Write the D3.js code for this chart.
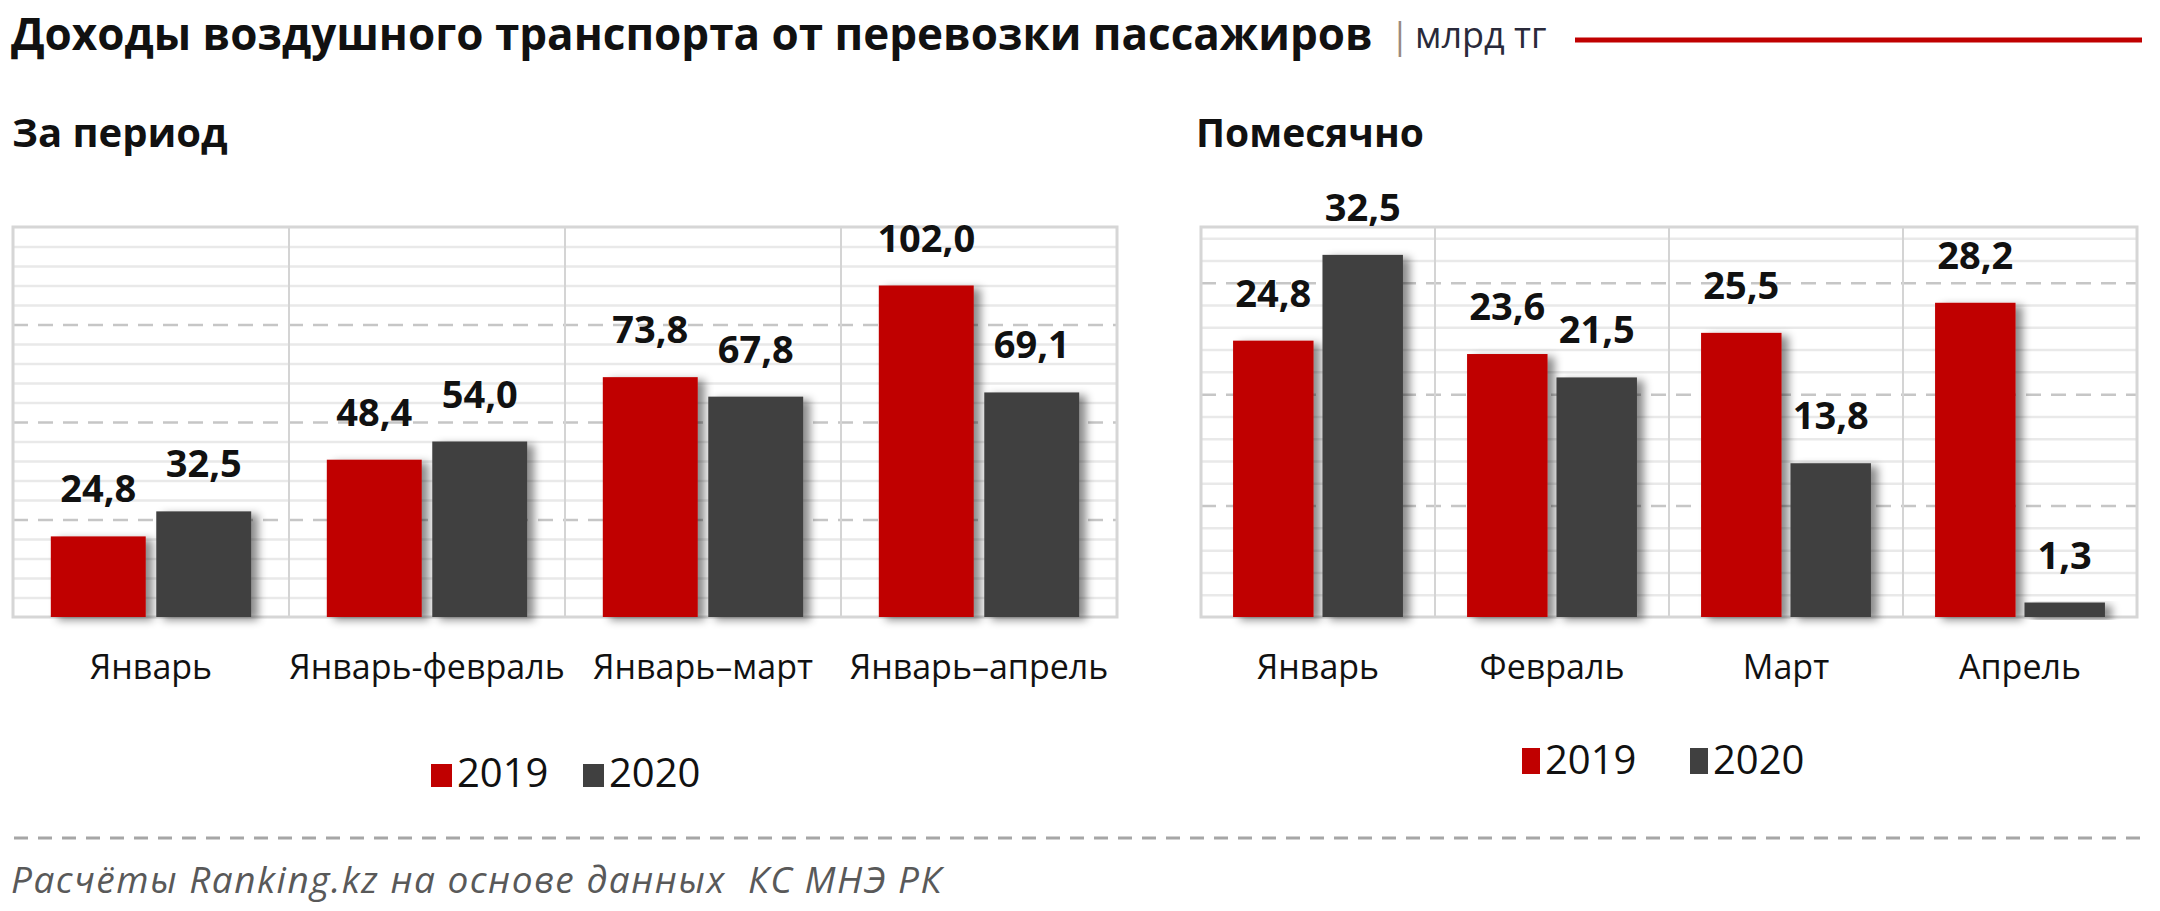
<!DOCTYPE html>
<html>
<head>
<meta charset="utf-8">
<script src="https://cdn.jsdelivr.net/npm/d3@7"></script>
<style>
  body { margin: 0; background: #fff; }
  svg { display: block; font-family: "Open Sans", sans-serif; }
</style>
</head>
<body>
<svg width="2160" height="911"></svg>
<script>
const years = ["2019", "2020"];
const yearColors = ["#c00000", "#404040"];

// За период
const periodCats = ["Январь", "Январь-февраль", "Январь–март", "Январь–апрель"];
const period2019 = [24.8, 48.4, 73.8, 102.0];
const period2020 = [32.5, 54.0, 67.8, 69.1];

// Помесячно
const monthCats = ["Январь", "Февраль", "Март", "Апрель"];
const month2019 = [24.8, 23.6, 25.5, 28.2];
const month2020 = [32.5, 21.5, 13.8, 1.3];

const svg = d3.select("svg");
const fmt = (v) => d3.format(".1f")(v).replace(".", ",");

const defs = svg.append("defs");
defs
  .append("filter")
  .attr("id", "shadow")
  .attr("x", "-20%")
  .attr("y", "-10%")
  .attr("width", "160%")
  .attr("height", "130%")
  .append("feDropShadow")
  .attr("dx", 7)
  .attr("dy", 3)
  .attr("stdDeviation", 4)
  .attr("flood-color", "#000")
  .attr("flood-opacity", 0.45);

// header
svg
  .append("text")
  .attr("x", 11)
  .attr("y", 50)
  .attr("font-size", 44)
  .attr("font-weight", 700)
  .attr("fill", "#111")
  .text("Доходы воздушного транспорта от перевозки пассажиров");

svg
  .append("text")
  .attr("x", 1390)
  .attr("y", 48)
  .attr("font-size", 36)
  .attr("fill", "#9a8a80")
  .text("|");

svg
  .append("text")
  .attr("x", 1415)
  .attr("y", 48)
  .attr("font-size", 36)
  .attr("fill", "#2a2a3a")
  .text("млрд тг");

svg
  .append("line")
  .attr("x1", 1575)
  .attr("x2", 2142)
  .attr("y1", 40)
  .attr("y2", 40)
  .attr("stroke", "#c00000")
  .attr("stroke-width", 5);

function drawPanel(opt) {
  const g = svg.append("g");
  const w = opt.x1 - opt.x0;

  g.append("text")
    .attr("x", opt.titleX)
    .attr("y", 147)
    .attr("font-size", opt.titleSize)
    .attr("font-weight", 700)
    .attr("fill", "#111")
    .text(opt.title);

  const x = d3.scaleBand().domain(opt.cats).range([opt.x0, opt.x1]);
  const y = d3.scaleLinear().domain([0, opt.max]).range([opt.y1, opt.y0]);
  const pad = x.bandwidth() * 0.137;
  const xs = d3
    .scaleBand()
    .domain(years)
    .range([pad, x.bandwidth() - pad])
    .paddingInner(0.1);

  // minor grid (skipping the dashed major positions)
  const minorTicks = d3
    .range(opt.minor, opt.max, opt.minor)
    .filter((v) => Math.abs(v / opt.major - Math.round(v / opt.major)) > 1e-6);

  g.append("g")
    .attr("transform", `translate(${opt.x0},0)`)
    .call(d3.axisLeft(y).tickValues(minorTicks).tickSize(-w).tickFormat(""))
    .call((a) => a.select(".domain").remove())
    .selectAll("line")
    .attr("stroke", "#e9e9e9")
    .attr("stroke-width", 2.5);

  // major dashed grid
  g.append("g")
    .attr("transform", `translate(${opt.x0},0)`)
    .call(
      d3
        .axisLeft(y)
        .tickValues(d3.range(opt.major, opt.max, opt.major))
        .tickSize(-w)
        .tickFormat("")
    )
    .call((a) => a.select(".domain").remove())
    .selectAll("line")
    .attr("stroke", "#c6c6c6")
    .attr("stroke-width", 2.5)
    .attr("stroke-dasharray", "15,10");

  // category dividers
  g.append("g")
    .selectAll("line")
    .data(opt.cats.slice(1))
    .join("line")
    .attr("x1", (d) => x(d))
    .attr("x2", (d) => x(d))
    .attr("y1", opt.y0)
    .attr("y2", opt.y1)
    .attr("stroke", "#d4d4d4")
    .attr("stroke-width", 2);

  g.append("rect")
    .attr("x", opt.x0)
    .attr("y", opt.y0)
    .attr("width", w)
    .attr("height", opt.y1 - opt.y0)
    .attr("fill", "none")
    .attr("stroke", "#d6d6d6")
    .attr("stroke-width", 3);

  const rows = opt.cats.map((c, i) => ({
    cat: c,
    values: [opt.s19[i], opt.s20[i]],
  }));

  const group = g
    .append("g")
    .selectAll("g")
    .data(rows)
    .join("g")
    .attr("transform", (d) => `translate(${x(d.cat)},0)`);

  const bars = group
    .selectAll("g")
    .data((d) => d.values.map((v, i) => ({ year: years[i], v, i })))
    .join("g");

  bars
    .append("rect")
    .attr("x", (d) => xs(d.year))
    .attr("width", xs.bandwidth())
    .attr("y", (d) => y(d.v))
    .attr("height", (d) => y(0) - y(d.v))
    .attr("fill", (d) => yearColors[d.i])
    .attr("filter", "url(#shadow)");

  bars
    .append("text")
    .attr("x", (d) => xs(d.year) + xs.bandwidth() / 2)
    .attr("y", (d) => y(d.v) - 34)
    .attr("text-anchor", "middle")
    .attr("font-size", 38)
    .attr("font-weight", 700)
    .attr("fill", "#111")
    .text((d) => fmt(d.v));

  // category labels
  g.append("g")
    .selectAll("text")
    .data(opt.cats)
    .join("text")
    .attr("x", (d) => x(d) + x.bandwidth() / 2)
    .attr("y", 679)
    .attr("text-anchor", "middle")
    .attr("font-size", 34)
    .attr("fill", "#111")
    .text((d) => d);

  // legend
  const cx = (opt.x0 + opt.x1) / 2;
  const leg = g
    .append("g")
    .selectAll("g")
    .data(years)
    .join("g")
    .attr(
      "transform",
      (d, i) => `translate(${cx + opt.legStart + i * opt.legStep},${opt.legY})`
    );
  leg
    .append("rect")
    .attr("x", 0)
    .attr("y", -opt.markH)
    .attr("width", opt.markW)
    .attr("height", opt.markH)
    .attr("fill", (d, i) => yearColors[i]);
  leg
    .append("text")
    .attr("x", opt.markW + 5)
    .attr("y", 0)
    .attr("font-size", 40)
    .attr("fill", "#111")
    .text((d) => d);
}

drawPanel({
  title: "За период",
  titleX: 12,
  titleSize: 40,
  cats: periodCats,
  s19: period2019,
  s20: period2020,
  max: 120,
  major: 30,
  minor: 6,
  x0: 13,
  x1: 1117,
  y0: 227,
  y1: 617,
  legY: 787,
  legStart: -134,
  legStep: 152,
  markW: 21,
  markH: 23,
});

drawPanel({
  title: "Помесячно",
  titleX: 1196,
  titleSize: 39,
  cats: monthCats,
  s19: month2019,
  s20: month2020,
  max: 35,
  major: 10,
  minor: 2,
  x0: 1201,
  x1: 2137,
  y0: 227,
  y1: 617,
  legY: 774,
  legStart: -147,
  legStep: 168,
  markW: 18,
  markH: 26,
});

// footer
svg
  .append("line")
  .attr("x1", 14)
  .attr("x2", 2149)
  .attr("y1", 838)
  .attr("y2", 838)
  .attr("stroke", "#a6a6a6")
  .attr("stroke-width", 3)
  .attr("stroke-dasharray", "14,10");

svg
  .append("text")
  .attr("x", 11)
  .attr("y", 893)
  .attr("font-size", 37)
  .attr("font-style", "italic")
  .attr("letter-spacing", 1.5)
  .attr("fill", "#595959")
  .style("white-space", "pre")
  .text("Расчёты Ranking.kz на основе данных  КС МНЭ РК");
</script>
</body>
</html>
